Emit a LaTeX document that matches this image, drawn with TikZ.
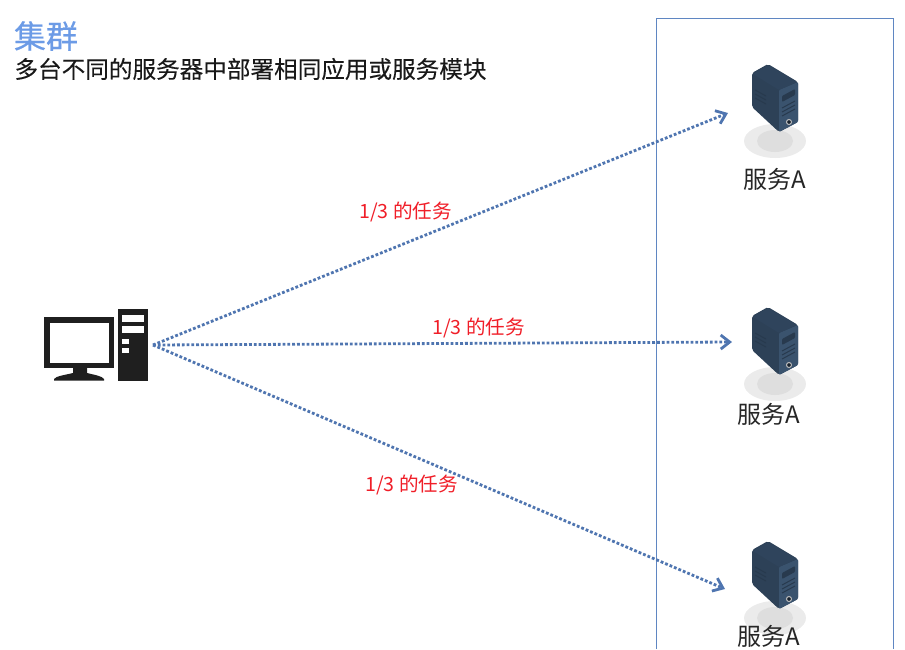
\documentclass[tikz,border=0pt]{standalone}
\usepackage{fontspec}
\setmainfont{Noto Sans CJK SC}
\usetikzlibrary{arrows.meta}
\definecolor{titre}{HTML}{6C9BE6}
\definecolor{fleche}{HTML}{4F75B0}
\definecolor{cadre}{HTML}{5F86C2}
\definecolor{boitier}{HTML}{2F445C}
\definecolor{boitierfront}{HTML}{3A536E}
\definecolor{rouge}{HTML}{F01E28}
\tikzset{
    lien/.style={fleche,line width=2.8pt,dash pattern=on 2.8pt off 2pt,
      -{Straight Barb[length=9pt,width=14pt,line width=2.8pt]}},
    tache/.style={font=\fontsize{19.6}{22}\selectfont,text=rouge},
    nomserveur/.style={font=\fontsize{24}{26}\selectfont,text=black!85},
    pc/.style={fill=black!88},
    serveur/.pic={
      %ombre
      \fill[black!8] (0,0) ellipse (31 and 17);
      \fill[black!13] (0,0) ellipse (18 and 11);
      %boitier
      \fill[boitier!95!black,rounded corners=2pt] (-23,-68) -- (-7,-77) -- (23,-59) -- (23,-19) -- (4,-9) -- (-23,-34) -- cycle;
      \fill[boitierfront,rounded corners=1pt] (4,-51) -- (23,-59) -- (23,-19) -- (4,-9) -- cycle;
      \fill[boitier,rounded corners=1pt] (-22,-67) -- (-7,-76) -- (22,-59) -- (4,-51) -- cycle;
      %facade
      \fill[boitier!85!black,rounded corners=1pt] (7,-45) -- (20,-52) -- (20,-46) -- (7,-39) -- cycle;
      \foreach \y in {-33,-29,-25}
        \draw[boitier!85!black,line width=1pt] (7,\y) -- (20,\y-7);
      \foreach \y in {-27,-23,-19}
        \draw[boitier!85!black,line width=1pt] (-20,\y-24) -- (-9,\y-18);
      \draw[black!25,fill=boitier!50!black,line width=1pt] (14,-19) circle (2.5);
    },
}
\begin{document}
\begin{tikzpicture}[x=1pt,y=-1pt]
\useasboundingbox (0,0) rectangle (905,649);
%TITRE
\node[text=titre,font=\fontsize{32}{36}\selectfont\addfontfeature{FakeBold=0.5}] (titre) at (46,36) {集群};
\node[font=\fontsize{23.6}{26}\selectfont\addfontfeature{FakeBold=0.15},text=black!90] (soustitre) at (250.5,69) {多台不同的服务器中部署相同应用或服务模块};
%CADRE
\draw[cadre,line width=0.9pt] (656.5,649) -- (656.5,18.5) -- (893,18.5) -- (893,649);
%SERVEURS
\pic at (775,141) {serveur};
\pic at (775,384) {serveur};
\pic at (775,618) {serveur};
\node[nomserveur] (s1) at (775,179) {服务A};
\node[nomserveur] (s2) at (769,414.5) {服务A};
\node[nomserveur] (s3) at (769,636.5) {服务A};
%ORDINATEUR
\fill[pc] (44,317) rectangle (114,368);
\fill[white] (49.5,323) rectangle (108.5,362.5);
\fill[pc] (73,368) -- (87,368) -- (87,373) .. controls (95,375) and (102,376) .. (104,379) -- (104,380.5) -- (54,380.5) -- (54,379) .. controls (56,376) and (65,375) .. (73,373) -- cycle;
\fill[pc] (118,308.5) rectangle (147.5,380.5);
\fill[white] (121.5,315) rectangle (144,321.5);
\fill[white] (121.5,326) rectangle (144,332.5);
\fill[white] (121.5,338.5) rectangle (129,344);
\fill[white] (121.5,347.5) rectangle (129,352.5);
%LIENS
\coordinate (P) at (153,345);
\coordinate (A) at (728,113);
\coordinate (B) at (732,342);
\coordinate (C) at (725,589);
\draw[lien] (P) -- (A);
\draw[lien] (P) -- (B);
\draw[lien] (P) -- (C);
%TACHES
\node[tache] (t1) at (405.5,212) {1/3 的任务};
\node[tache] (t2) at (478.5,328) {1/3 的任务};
\node[tache] (t3) at (411.5,485) {1/3 的任务};
\end{tikzpicture}
\end{document}
